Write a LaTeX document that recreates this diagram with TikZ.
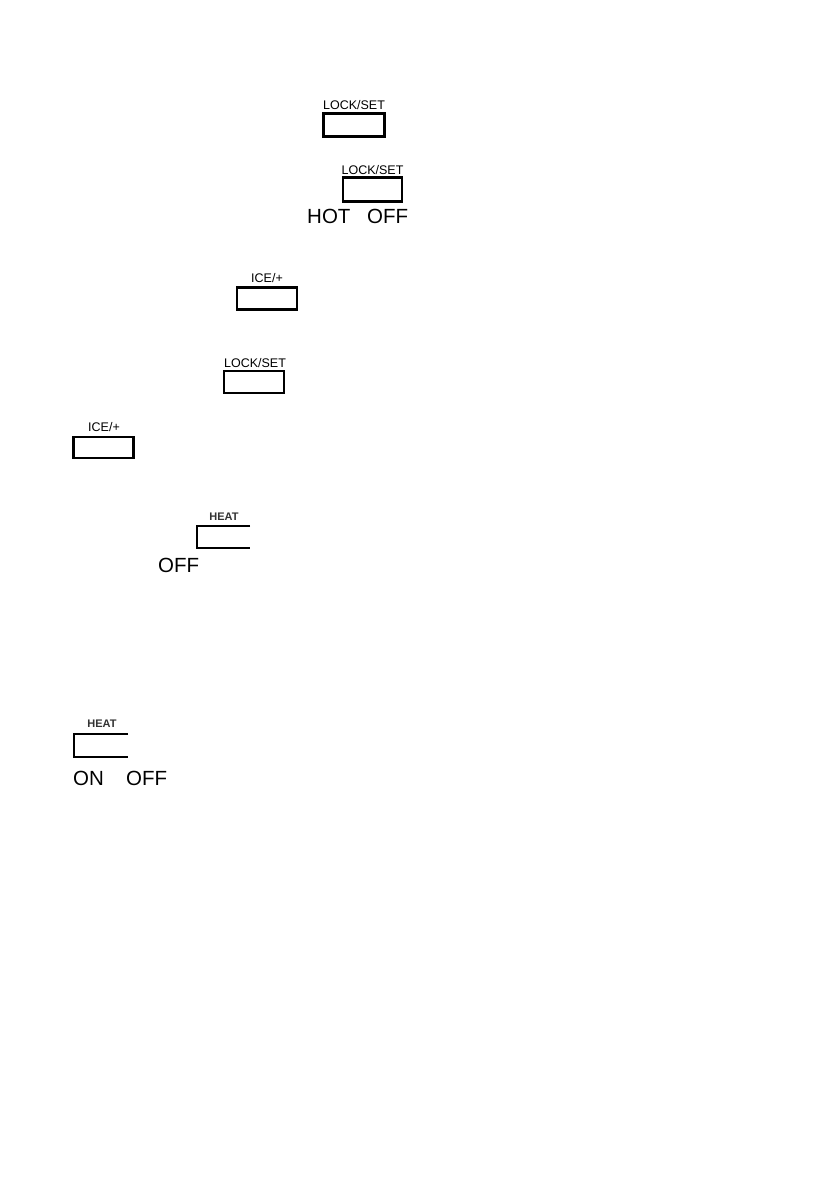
\documentclass[tikz,border=0pt]{standalone}
\usepackage{fontspec}
\setmainfont{Liberation Sans}
\begin{document}
\begin{tikzpicture}[x=1pt,y=-1pt,
  btn/.style={draw, line width=2.2pt, inner sep=0pt, rectangle},
  openbtn/.style={inner sep=0pt, rectangle},
  edge/.style={line width=2.2pt},
  lbl/.style={inner sep=0pt, font=\fontsize{12.5}{12.5}\selectfont},
  hlbl/.style={inner sep=0pt, font=\fontsize{11}{11}\selectfont\bfseries, text=black!80},
  big/.style={inner sep=0pt, font=\fontsize{20.5}{20.5}\selectfont, anchor=west}]
\useasboundingbox[fill=white] (0,0) rectangle (839,1191);
% 1
\node[btn, minimum width=61pt, minimum height=23pt] (b1) at (354,125) {};
\node[lbl] (l1) at (354,105) {LOCK/SET};
% 2
\node[btn, minimum width=59pt, minimum height=24pt] (b2) at (372.5,189.5) {};
\node[lbl] (l2) at (372.5,170) {LOCK/SET};
\node[big] (hot2) at (307,216.5) {HOT};
\node[big] (off2) at (367,216.5) {OFF};
% 3
\node[btn, minimum width=60pt, minimum height=22pt] (b3) at (267,298.5) {};
\node[lbl] (l3) at (267,278) {ICE/+};
% 4
\node[btn, minimum width=60pt, minimum height=22pt] (b4) at (254,382) {};
\node[lbl] (l4) at (255,363) {LOCK/SET};
% 5
\node[btn, minimum width=60pt, minimum height=21pt] (b5) at (103.5,447.5) {};
\node[lbl] (l5) at (104,427) {ICE/+};
% 6
\node[openbtn, minimum width=53pt, minimum height=22pt] (b6) at (223.5,537) {};
\draw[edge] (b6.north east) -- (b6.north west) -- (b6.south west) -- (b6.south east);
\node[hlbl] (l6) at (224,516.5) {HEAT};
\node[big] (off6) at (158,565.5) {OFF};
% 7
\node[openbtn, minimum width=54pt, minimum height=23pt] (b7) at (101,745.5) {};
\draw[edge] (b7.north east) -- (b7.north west) -- (b7.south west) -- (b7.south east);
\node[hlbl] (l7) at (102,724) {HEAT};
\node[big] (on7) at (73,778) {ON};
\node[big] (off7) at (126,778) {OFF};
\end{tikzpicture}
\end{document}
